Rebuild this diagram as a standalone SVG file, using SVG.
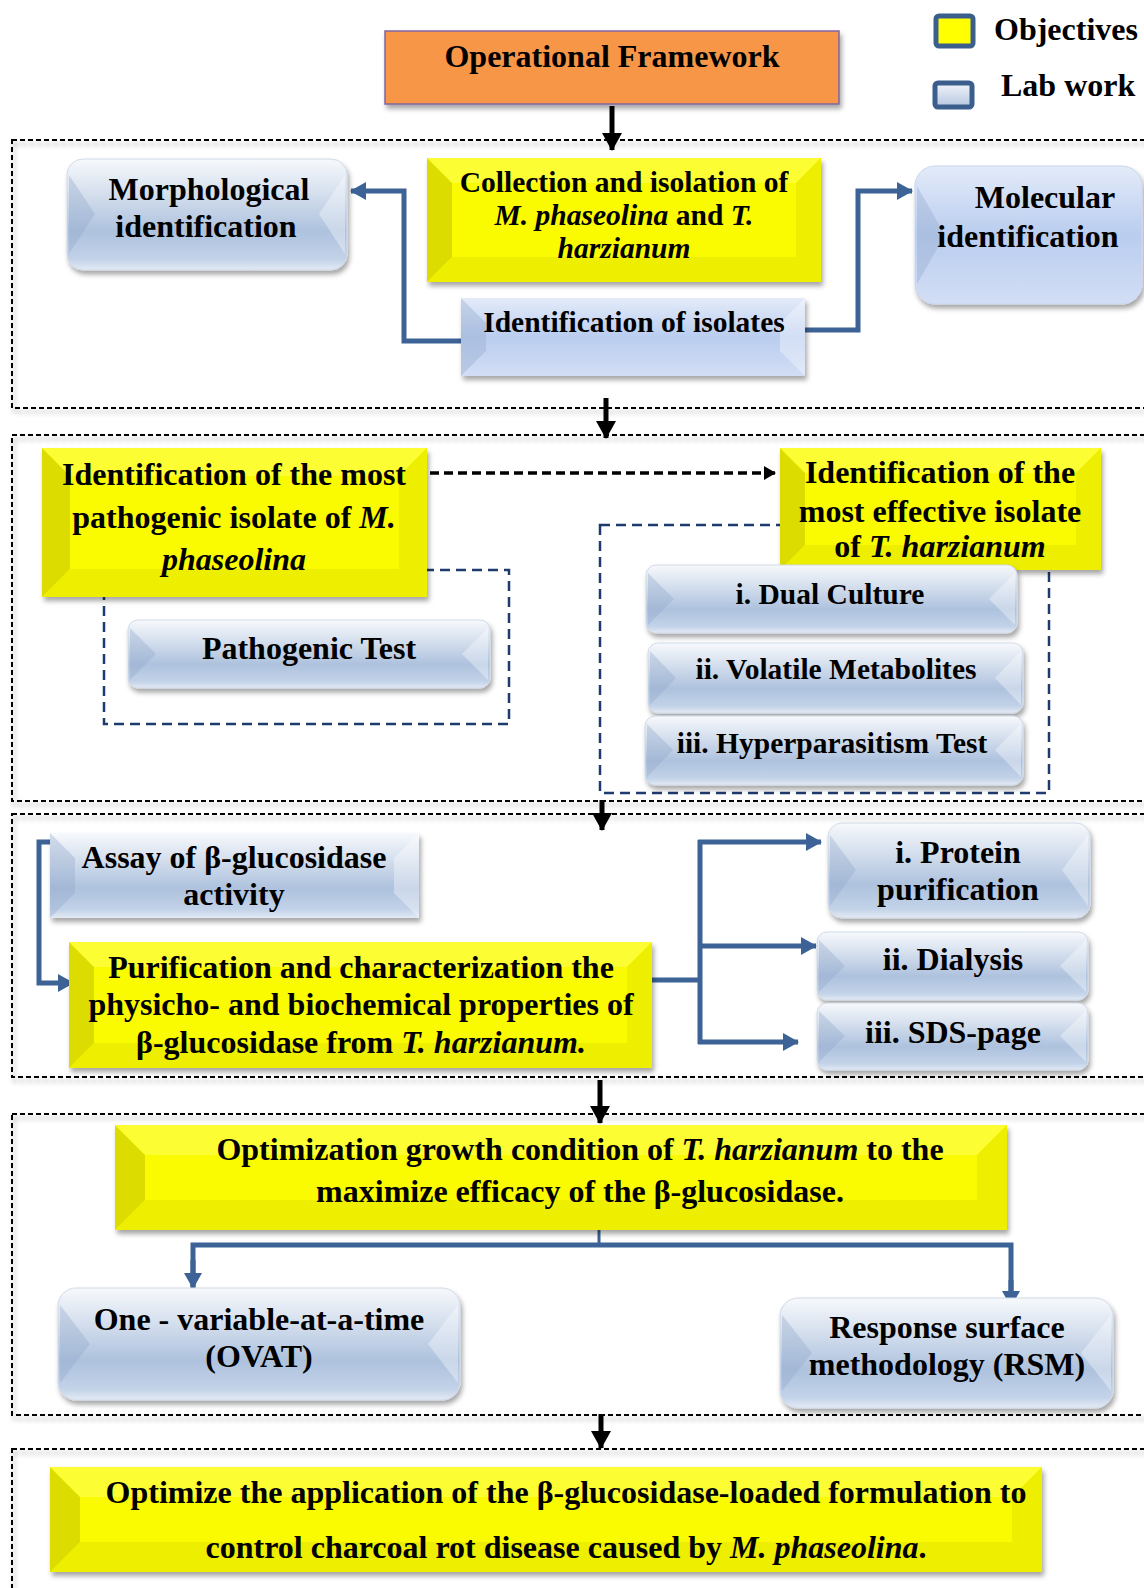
<svg xmlns="http://www.w3.org/2000/svg" width="1144" height="1588" viewBox="0 0 1144 1588">
<style>
text{font-family:"Liberation Serif","Times New Roman",serif;font-weight:bold;fill:#000;}
.t{font-size:32px;text-anchor:middle;}
.i{font-style:italic;}
.sec{fill:none;stroke:#000;stroke-width:2;stroke-dasharray:5 3;}
.nav{fill:none;stroke:#1F3A6E;stroke-width:2.5;stroke-dasharray:10 6;}
.bc{fill:none;stroke:#3C6296;stroke-width:5;}
.ka{fill:none;stroke:#000;stroke-width:5;}
.yl{fill:#FAFA00;}
.wl{fill:#DCDC00;}
.wt{fill:#FFFF66;}
.wr{fill:#EEEE00;}
.wb{fill:#E6E600;}
.bl{fill:url(#gBlue);}
.bm{fill:url(#gMol);}
.sh{filter:url(#sh);}
.bwl{fill:#8FA6C8;opacity:0.35;}
.bwr{fill:#FFFFFF;opacity:0.35;}
</style>
<defs>
<filter id="sh" x="-10%" y="-20%" width="125%" height="150%">
<feDropShadow dx="2" dy="4" stdDeviation="2.5" flood-color="#000" flood-opacity="0.35"/>
</filter>
<linearGradient id="gBlue" x1="0" y1="0" x2="0" y2="1">
<stop offset="0" stop-color="#F7F9FC"/>
<stop offset="0.3" stop-color="#D6E0EE"/>
<stop offset="0.65" stop-color="#AEC2DE"/>
<stop offset="0.9" stop-color="#C2D2E8"/>
<stop offset="1" stop-color="#E3EAF4"/>
</linearGradient>
<linearGradient id="gMol" x1="0" y1="0" x2="0" y2="1">
<stop offset="0" stop-color="#E3EBF9"/>
<stop offset="0.5" stop-color="#BACDEF"/>
<stop offset="1" stop-color="#D2DEF5"/>
</linearGradient>
<linearGradient id="gLeg" x1="0" y1="0" x2="0" y2="1">
<stop offset="0" stop-color="#F2F5FA"/>
<stop offset="1" stop-color="#B4C6E0"/>
</linearGradient>
<marker id="ab" markerUnits="userSpaceOnUse" markerWidth="16" markerHeight="18" refX="15" refY="9" orient="auto">
<path d="M0,0 L16,9 L0,18 Z" fill="#3C6296"/>
</marker>
<marker id="ak" markerUnits="userSpaceOnUse" markerWidth="18" markerHeight="20" refX="17" refY="10" orient="auto">
<path d="M0,0 L18,10 L0,20 Z" fill="#000"/>
</marker>
<marker id="ad" markerUnits="userSpaceOnUse" markerWidth="12" markerHeight="14" refX="11" refY="7" orient="auto">
<path d="M0,0 L12,7 L0,14 Z" fill="#000"/>
</marker>
</defs>
<rect width="1144" height="1588" fill="#FFFFFF"/>

<!-- section frames -->
<g id="sections">
<rect class="sec sh" x="12" y="140" width="1150" height="268"/>
<rect class="sec sh" x="12" y="435" width="1150" height="366"/>
<rect class="sec sh" x="12" y="814" width="1150" height="263"/>
<rect class="sec sh" x="12" y="1114" width="1150" height="301"/>
<rect class="sec sh" x="12" y="1449" width="1150" height="160"/>
<rect class="nav" x="104" y="570" width="405" height="154"/>
<rect class="nav" x="600" y="525" width="449" height="268"/>
</g>

<!-- legend -->
<g id="legend">
<rect x="936" y="16" width="37" height="30" rx="3" fill="#FFFF00" stroke="#3B5E8C" stroke-width="5"/>
<text x="994" y="40" style="font-size:32px">Objectives</text>
<rect x="935" y="83" width="37" height="24" rx="3" fill="url(#gLeg)" stroke="#3B5E8C" stroke-width="5"/>
<text x="1001" y="96" style="font-size:32px">Lab work</text>
</g>

<!-- connectors -->
<g id="connectors">
<line class="ka" x1="612" y1="106" x2="612" y2="150" marker-end="url(#ak)"/>
<line class="ka" x1="606" y1="398" x2="606" y2="438" marker-end="url(#ak)"/>
<line class="ka" x1="602" y1="800" x2="602" y2="830" marker-end="url(#ak)"/>
<line class="ka" x1="600" y1="1080" x2="600" y2="1123" marker-end="url(#ak)"/>
<line class="ka" x1="601" y1="1414" x2="601" y2="1448" marker-end="url(#ak)"/>
<polyline class="bc" points="462,341 404,341 404,191 351,191" marker-end="url(#ab)"/>
<polyline class="bc" points="803,330 858,330 858,191 912,191" marker-end="url(#ab)"/>
<line x1="430" y1="473" x2="775" y2="473" stroke="#000" stroke-width="3.5" stroke-dasharray="9 5" marker-end="url(#ad)"/>
<polyline class="bc" points="50,842 39,842 39,983 73,983" marker-end="url(#ab)"/>
<line class="bc" x1="652" y1="980" x2="700" y2="980"/>
<line class="bc" x1="700" y1="840" x2="700" y2="1044"/>
<line class="bc" x1="698" y1="842" x2="821" y2="842" marker-end="url(#ab)"/>
<line class="bc" x1="698" y1="946" x2="816" y2="946" marker-end="url(#ab)"/>
<line class="bc" x1="698" y1="1042" x2="798" y2="1042" marker-end="url(#ab)"/>
<line x1="599" y1="1225" x2="599" y2="1245" stroke="#3C6296" stroke-width="3"/>
<polyline class="bc" points="193,1287 193,1245 1011,1245 1011,1305"/>
<line class="bc" x1="193" y1="1260" x2="193" y2="1288" marker-end="url(#ab)"/>
<line class="bc" x1="1011" y1="1280" x2="1011" y2="1306" marker-end="url(#ab)"/>
</g>

<!-- header -->
<g id="n-header">
<rect class="sh" x="385" y="31" width="454" height="73" fill="#F79646" stroke="#8064A2" stroke-width="1.5"/>
<text class="t" x="612" y="67">Operational Framework</text>
</g>

<!-- section 1 -->
<g id="n-morph">
<rect class="bl sh" x="67" y="159" width="280" height="111" rx="16" stroke="#D0DAE8" stroke-width="1"/>
<polygon class="bwl" points="69,175 95,214 69,254"/>
<polygon class="bwr" points="345,175 319,214 345,254"/>
<text class="t" x="209" y="200">Morphological</text>
<text class="t" x="206" y="237">identification</text>
</g>
<g id="n-collect">
<rect class="yl sh" x="427" y="158" width="394" height="124"/>
<polygon class="wl" points="427,158 452,183 452,257 427,282"/>
<polygon class="wt" points="427,158 821,158 796,183 452,183" opacity="0.5"/>
<polygon class="wr" points="821,158 821,282 796,257 796,183"/>
<polygon class="wb" points="427,282 452,257 796,257 821,282" opacity="0.6"/>
<text class="t" x="624" y="192" style="font-size:29.5px">Collection and isolation of</text>
<text class="t" x="624" y="225" style="font-size:29.5px"><tspan class="i">M. phaseolina</tspan> and <tspan class="i">T.</tspan></text>
<text class="t i" x="624" y="258" style="font-size:29.5px">harzianum</text>
</g>
<g id="n-isolates">
<rect class="bm sh" x="461" y="298" width="344" height="78"/>
<polygon class="bwl" points="461,298 486,323 486,351 461,376"/>
<polygon class="bwr" points="805,298 780,323 780,351 805,376"/>
<text class="t" x="634" y="332" style="font-size:29.5px">Identification of isolates</text>
</g>
<g id="n-molec">
<rect class="bm sh" x="915" y="166" width="227" height="138" rx="20" stroke="#C9D6EE" stroke-width="1"/>
<polygon class="bwl" points="917,186 945,235 917,284" opacity="0.25"/>
<text class="t" x="1045" y="208">Molecular</text>
<text class="t" x="1028" y="247">identification</text>
</g>

<!-- section 2 -->
<g id="n-patho-obj">
<rect class="yl sh" x="42" y="448" width="385" height="149"/>
<polygon class="wl" points="42,448 70,476 70,569 42,597"/>
<polygon class="wt" points="42,448 427,448 399,476 70,476" opacity="0.5"/>
<polygon class="wr" points="427,448 427,597 399,569 399,476"/>
<polygon class="wb" points="42,597 70,569 399,569 427,597" opacity="0.6"/>
<text class="t" x="234" y="485">Identification of the most</text>
<text class="t" x="234" y="528">pathogenic isolate of <tspan class="i">M.</tspan></text>
<text class="t i" x="234" y="570">phaseolina</text>
</g>
<g id="n-patho-test">
<rect class="bl sh" x="128" y="620" width="362" height="68" rx="10" stroke="#D0DAE8" stroke-width="1"/>
<polygon class="bwl" points="130,628 156,654 130,680"/>
<polygon class="bwr" points="488,628 462,654 488,680"/>
<text class="t" x="309" y="659">Pathogenic Test</text>
</g>
<g id="n-eff-obj">
<rect class="yl sh" x="780" y="448" width="321" height="122"/>
<polygon class="wl" points="780,448 805,473 805,545 780,570"/>
<polygon class="wt" points="780,448 1101,448 1076,473 805,473" opacity="0.5"/>
<polygon class="wr" points="1101,448 1101,570 1076,545 1076,473"/>
<polygon class="wb" points="780,570 805,545 1076,545 1101,570" opacity="0.6"/>
<text class="t" x="940" y="483">Identification of the</text>
<text class="t" x="940" y="522">most effective isolate</text>
<text class="t" x="940" y="557">of <tspan class="i">T. harzianum</tspan></text>
</g>
<g id="n-dual">
<rect class="bl sh" x="646" y="565" width="371" height="68" rx="10" stroke="#D0DAE8" stroke-width="1"/>
<polygon class="bwl" points="648,573 674,599 648,625"/>
<polygon class="bwr" points="1015,573 989,599 1015,625"/>
<text class="t" x="830" y="604" style="font-size:29.5px">i. Dual Culture</text>
</g>
<g id="n-volatile">
<rect class="bl sh" x="648" y="643" width="375" height="70" rx="10" stroke="#D0DAE8" stroke-width="1"/>
<polygon class="bwl" points="650,651 676,678 650,705"/>
<polygon class="bwr" points="1021,651 995,678 1021,705"/>
<text class="t" x="836" y="679" style="font-size:29.5px">ii. Volatile Metabolites</text>
</g>
<g id="n-hyper">
<rect class="bl sh" x="645" y="716" width="378" height="69" rx="10" stroke="#D0DAE8" stroke-width="1"/>
<polygon class="bwl" points="647,724 673,750 647,777"/>
<polygon class="bwr" points="1021,724 995,750 1021,777"/>
<text class="t" x="832" y="753" style="font-size:29.5px">iii. Hyperparasitism Test</text>
</g>

<!-- section 3 -->
<g id="n-assay">
<rect class="bl sh" x="50" y="833" width="369" height="85"/>
<polygon class="bwl" points="50,833 75,858 75,893 50,918"/>
<polygon class="bwr" points="419,833 394,858 394,893 419,918"/>
<text class="t" x="234" y="868">Assay of β-glucosidase</text>
<text class="t" x="234" y="905">activity</text>
</g>
<g id="n-purif">
<rect class="yl sh" x="69" y="942" width="583" height="126"/>
<polygon class="wl" points="69,942 94,967 94,1043 69,1068"/>
<polygon class="wt" points="69,942 652,942 627,967 94,967" opacity="0.5"/>
<polygon class="wr" points="652,942 652,1068 627,1043 627,967"/>
<polygon class="wb" points="69,1068 94,1043 627,1043 652,1068" opacity="0.6"/>
<text class="t" x="361" y="978">Purification and characterization the</text>
<text class="t" x="361" y="1015">physicho- and biochemical properties of</text>
<text class="t" x="361" y="1053">β-glucosidase from <tspan class="i">T. harzianum.</tspan></text>
</g>
<g id="n-protein">
<rect class="bl sh" x="828" y="823" width="262" height="95" rx="14" stroke="#D0DAE8" stroke-width="1"/>
<polygon class="bwl" points="830,835 856,870 830,906"/>
<polygon class="bwr" points="1088,835 1062,870 1088,906"/>
<text class="t" x="958" y="863">i. Protein</text>
<text class="t" x="958" y="900">purification</text>
</g>
<g id="n-dialysis">
<rect class="bl sh" x="817" y="932" width="271" height="68" rx="10" stroke="#D0DAE8" stroke-width="1"/>
<polygon class="bwl" points="819,940 845,966 819,992"/>
<polygon class="bwr" points="1086,940 1060,966 1086,992"/>
<text class="t" x="953" y="970">ii. Dialysis</text>
</g>
<g id="n-sds">
<rect class="bl sh" x="817" y="1003" width="271" height="67" rx="10" stroke="#D0DAE8" stroke-width="1"/>
<polygon class="bwl" points="819,1011 845,1036 819,1062"/>
<polygon class="bwr" points="1086,1011 1060,1036 1086,1062"/>
<text class="t" x="953" y="1043">iii. SDS-page</text>
</g>

<!-- section 4 -->
<g id="n-optim">
<rect class="yl sh" x="115" y="1125" width="892" height="105"/>
<polygon class="wl" points="115,1125 145,1155 145,1200 115,1230"/>
<polygon class="wt" points="115,1125 1007,1125 977,1155 145,1155" opacity="0.5"/>
<polygon class="wr" points="1007,1125 1007,1230 977,1200 977,1155"/>
<polygon class="wb" points="115,1230 145,1200 977,1200 1007,1230" opacity="0.6"/>
<text class="t" x="580" y="1160">Optimization growth condition of <tspan class="i">T. harzianum</tspan> to the</text>
<text class="t" x="580" y="1202">maximize efficacy of the β-glucosidase.</text>
</g>
<g id="n-ovat">
<rect class="bl sh" x="58" y="1288" width="402" height="112" rx="18" stroke="#D0DAE8" stroke-width="1"/>
<polygon class="bwl" points="60,1305 90,1344 60,1383"/>
<polygon class="bwr" points="458,1305 428,1344 458,1383"/>
<text class="t" x="259" y="1330">One - variable-at-a-time</text>
<text class="t" x="259" y="1367">(OVAT)</text>
</g>
<g id="n-rsm">
<rect class="bl sh" x="780" y="1298" width="333" height="110" rx="18" stroke="#D0DAE8" stroke-width="1"/>
<polygon class="bwl" points="782,1315 812,1353 782,1391"/>
<polygon class="bwr" points="1111,1315 1081,1353 1111,1391"/>
<text class="t" x="947" y="1338">Response surface</text>
<text class="t" x="947" y="1375">methodology (RSM)</text>
</g>

<!-- section 5 -->
<g id="n-final">
<rect class="yl sh" x="50" y="1467" width="992" height="105"/>
<polygon class="wl" points="50,1467 80,1497 80,1542 50,1572"/>
<polygon class="wt" points="50,1467 1042,1467 1012,1497 80,1497" opacity="0.5"/>
<polygon class="wr" points="1042,1467 1042,1572 1012,1542 1012,1497"/>
<polygon class="wb" points="50,1572 80,1542 1012,1542 1042,1572" opacity="0.6"/>
<text class="t" x="566" y="1503">Optimize the application of the β-glucosidase-loaded formulation to</text>
<text class="t" x="566" y="1558">control charcoal rot disease caused by <tspan class="i">M. phaseolina</tspan>.</text>
</g>
</svg>
